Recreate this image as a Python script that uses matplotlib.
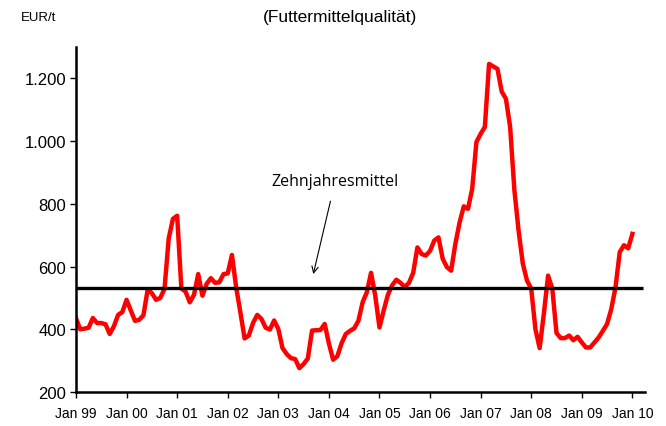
import matplotlib
matplotlib.use("Agg")
import matplotlib.pyplot as plt
from matplotlib.ticker import FuncFormatter

# monthly prices EUR/t, Jan 1999 .. Jan 2010
prices = [
    435, 400, 402, 405, 436, 420, 420, 416, 385, 410, 446, 455,   # 1999
    494, 460, 427, 430, 445, 526, 515, 494, 500, 529, 690, 752,   # 2000
    762, 530, 520, 486, 510, 576, 507, 545, 563, 548, 550, 576,   # 2001
    578, 637, 534, 454, 371, 380, 420, 446, 433, 405, 399, 428,   # 2002
    401, 340, 321, 308, 305, 276, 289, 307, 396, 397, 398, 417,   # 2003
    355, 303, 314, 355, 385, 395, 403, 427, 486, 518, 580, 507,   # 2004
    406, 460, 510, 540, 558, 548, 535, 548, 580, 661, 640, 635,   # 2005
    650, 683, 693, 625, 598, 587, 672, 740, 792, 784, 848, 997,   # 2006
    1023, 1045, 1246, 1238, 1230, 1158, 1135, 1045, 845, 715, 610, 555,  # 2007
    530, 400, 340, 450, 571, 530, 388, 372, 372, 380, 365, 376,   # 2008
    358, 342, 342, 358, 374, 395, 417, 465, 534, 646, 668, 658,   # 2009
    704,                                                          # Jan 2010
]
mean_value = 533
tick_labels = ["Jan 99", "Jan 00", "Jan 01", "Jan 02", "Jan 03", "Jan 04",
               "Jan 05", "Jan 06", "Jan 07", "Jan 08", "Jan 09", "Jan 10"]
y_ticks = [200, 400, 600, 800, 1000, 1200]

plt.rcParams['font.family'] = ['Liberation Sans', 'DejaVu Sans']

fig = plt.figure(figsize=(6.66, 4.27), dpi=100)
ax = fig.add_axes([0.1141, 0.0796, 0.8544, 0.808])

months = list(range(len(prices)))
ax.plot(months, prices, color='#ff0000', linewidth=3.2, solid_joinstyle='round')
ax.hlines(mean_value, 0, 134.5, color='black', linewidth=2.4)

ax.set_xlim(0, 135)
ax.set_ylim(200, 1300)
ax.set_xticks([12 * i for i in range(len(tick_labels))])
ax.set_xticklabels(tick_labels, fontsize=10)
ax.set_yticks(y_ticks)
ax.yaxis.set_major_formatter(FuncFormatter(lambda v, p: f"{int(v):,}".replace(",", ".")))
ax.tick_params(axis='y', labelsize=12, length=4, width=1, pad=3)
ax.tick_params(axis='x', length=4, width=1, pad=6)

for side in ['top', 'right']:
    ax.spines[side].set_visible(False)
for side in ['left', 'bottom']:
    ax.spines[side].set_linewidth(1.8)

ax.annotate("Zehnjahresmittel", xy=(56.3, 576), xytext=(61.5, 873),
            ha='center', va='center', fontsize=11.5, family=['Open Sans'],
            arrowprops=dict(arrowstyle='->', color='black', lw=0.8,
                            shrinkA=7, shrinkB=0))

fig.text(0.032, 0.957, "EUR/t", fontsize=9.5, ha='left', va='center')
fig.text(0.51, 0.96, "(Futtermittelqualität)", fontsize=12.5, ha='center', va='center')

fig.savefig("out.png", dpi=100)
